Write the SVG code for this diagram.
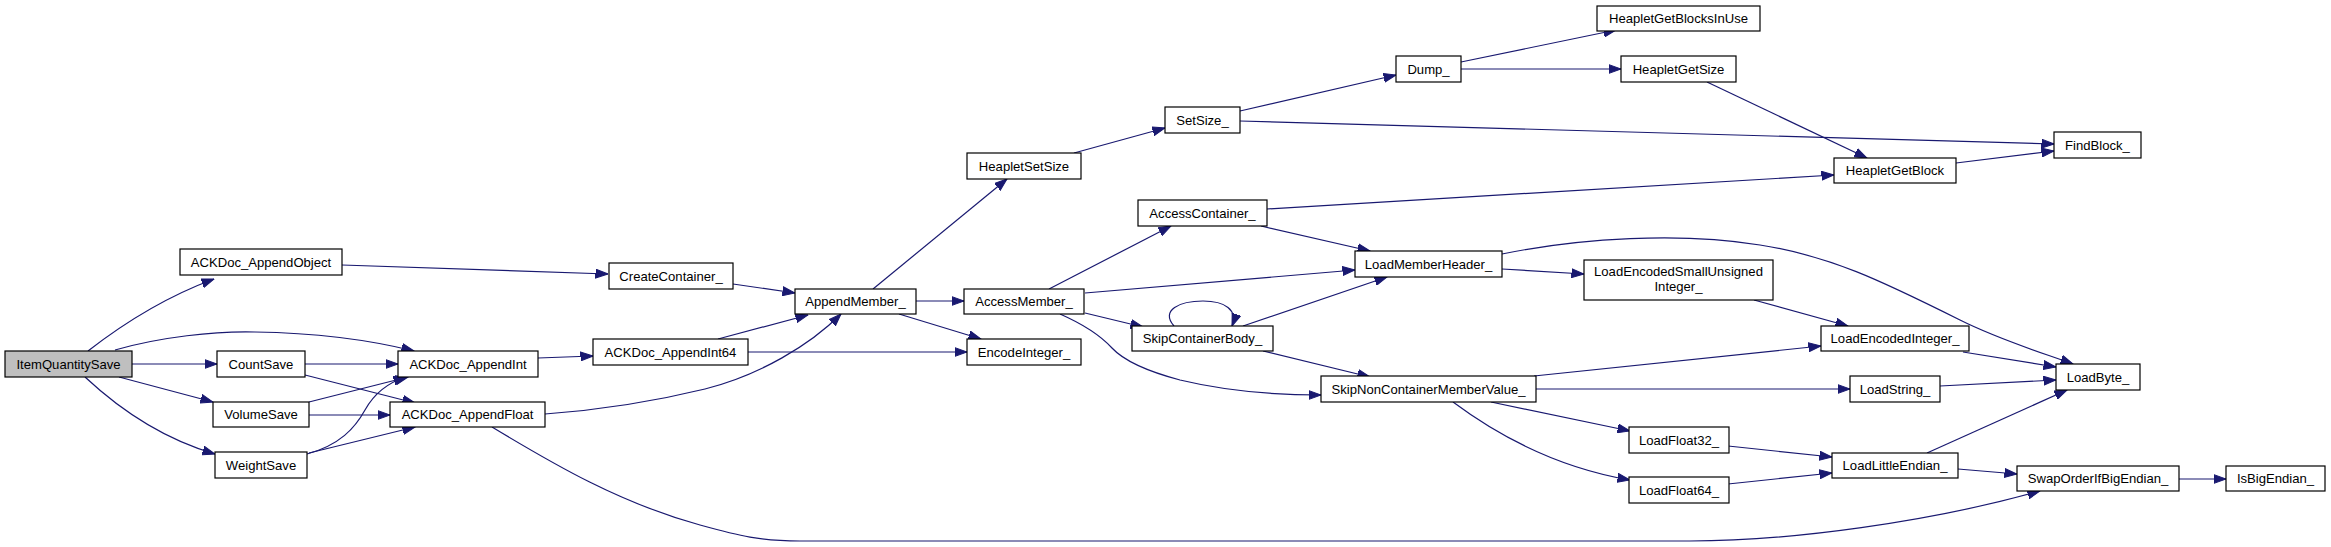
<svg xmlns="http://www.w3.org/2000/svg" width="2331" height="547" viewBox="0 0 2331 547">
<defs>
<marker id="ah" viewBox="0 0 13 10" refX="12.5" refY="5" markerWidth="13" markerHeight="10" markerUnits="userSpaceOnUse" orient="auto">
<path d="M0,0.5 L12.5,5 L0,9.5 z" fill="#191970" stroke="#191970" stroke-width="1"/>
</marker>
</defs>
<style>
.n rect{fill:#fff;stroke:#000;stroke-width:1.2}
.n text{font-family:"Liberation Sans",Arial,Helvetica,sans-serif;font-size:13.1px;fill:#000;text-anchor:middle}
#edges path{fill:none;stroke:#191970;stroke-width:1.2;marker-end:url(#ah)}
</style>
<rect width="2331" height="547" fill="#fff"/>
<g id="edges">
<path d="M88,351 C115,330 160,299 214,279"/>
<path d="M115,350 C160,337 215,331 255,332 C320,333 370,340 414,351"/>
<path d="M132,364 L217,364"/>
<path d="M119,377 L213,402"/>
<path d="M85,377 C115,405 160,438 215,454"/>
<path d="M305,364 L398,364"/>
<path d="M305,375 L415,403"/>
<path d="M309,402 L408,377"/>
<path d="M309,415 L390,415"/>
<path d="M307,454 C340,445 355,428 365,410 C375,392 390,382 406,377"/>
<path d="M309,453 L415,427"/>
<path d="M342,265 L608,274"/>
<path d="M538,358 L593,356"/>
<path d="M545,414 C600,410 660,400 705,389 C760,375 810,345 841,314"/>
<path d="M492,427 C555,465 620,503 700,525 C740,536 760,541 800,541 L1690,541 C1790,541 1930,522 2040,491"/>
<path d="M733,284 L795,293"/>
<path d="M718,339 L808,315"/>
<path d="M748,352 L967,352"/>
<path d="M873,289 L1007,179"/>
<path d="M916,301 L964,301"/>
<path d="M899,314 L981,339"/>
<path d="M1074,153 L1165,128"/>
<path d="M1240,111 L1396,75"/>
<path d="M1240,121 L2054,144"/>
<path d="M1461,62 L1616,30"/>
<path d="M1461,69 L1621,69"/>
<path d="M1707,82 L1867,158"/>
<path d="M1956,163 L2054,151"/>
<path d="M1049,289 L1171,226"/>
<path d="M1085,293 L1355,270"/>
<path d="M1085,313 L1143,327"/>
<path d="M1060,314 C1085,325 1100,335 1112,348 C1125,362 1150,372 1180,380 C1230,392 1280,395 1321,395"/>
<path d="M1267,209 L1834,175"/>
<path d="M1261,226 L1370,251"/>
<path d="M1174,326 C1160,310 1180,301 1203,301 C1225,301 1238,310 1232,326"/>
<path d="M1243,326 L1387,277"/>
<path d="M1263,351 L1370,377"/>
<path d="M1502,254 C1580,238 1680,232 1760,245 C1830,256 1880,280 1960,320 C2000,340 2040,352 2073,364"/>
<path d="M1502,269 L1584,274"/>
<path d="M1754,300 L1848,326"/>
<path d="M1534,376 L1821,346"/>
<path d="M1536,389 L1850,389"/>
<path d="M1491,402 L1630,431"/>
<path d="M1453,402 C1500,437 1560,468 1630,480"/>
<path d="M1963,352 L2056,367"/>
<path d="M1940,386 L2056,380"/>
<path d="M1728,446 L1832,457"/>
<path d="M1728,484 L1832,473"/>
<path d="M1927,453 L2067,390"/>
<path d="M1958,469 L2017,474"/>
<path d="M2179,479 L2226,479"/>
</g>
<g id="ItemQuantitySave" class="n"><rect x="5" y="351" width="127" height="26" style="fill:#bfbfbf"/><text x="68.5" y="368.5">ItemQuantitySave</text></g>
<g id="ACKDoc_AppendObject" class="n"><rect x="180" y="249" width="162" height="26"/><text x="261" y="266.5">ACKDoc_AppendObject</text></g>
<g id="CountSave" class="n"><rect x="217" y="351" width="88" height="26"/><text x="261" y="368.5">CountSave</text></g>
<g id="ACKDoc_AppendInt" class="n"><rect x="398" y="351" width="140" height="26"/><text x="468" y="368.5">ACKDoc_AppendInt</text></g>
<g id="VolumeSave" class="n"><rect x="213" y="402" width="96" height="25"/><text x="261" y="419">VolumeSave</text></g>
<g id="ACKDoc_AppendFloat" class="n"><rect x="390" y="402" width="155" height="25"/><text x="467.5" y="419">ACKDoc_AppendFloat</text></g>
<g id="WeightSave" class="n"><rect x="215" y="452" width="92" height="26"/><text x="261" y="469.5">WeightSave</text></g>
<g id="CreateContainer_" class="n"><rect x="609" y="263" width="124" height="26"/><text x="671" y="280.5">CreateContainer_</text></g>
<g id="AppendMember_" class="n"><rect x="795" y="289" width="121" height="25"/><text x="855.5" y="306">AppendMember_</text></g>
<g id="ACKDoc_AppendInt64" class="n"><rect x="593" y="339" width="155" height="26"/><text x="670.5" y="356.5">ACKDoc_AppendInt64</text></g>
<g id="HeapletSetSize" class="n"><rect x="967" y="153" width="114" height="26"/><text x="1024" y="170.5">HeapletSetSize</text></g>
<g id="AccessMember_" class="n"><rect x="964" y="289" width="120" height="25"/><text x="1024" y="306">AccessMember_</text></g>
<g id="EncodeInteger_" class="n"><rect x="967" y="339" width="114" height="26"/><text x="1024" y="356.5">EncodeInteger_</text></g>
<g id="SetSize_" class="n"><rect x="1165" y="107" width="75" height="26"/><text x="1202.5" y="124.5">SetSize_</text></g>
<g id="Dump_" class="n"><rect x="1396" y="56" width="65" height="26"/><text x="1428.5" y="73.5">Dump_</text></g>
<g id="HeapletGetBlocksInUse" class="n"><rect x="1597" y="6" width="163" height="25"/><text x="1678.5" y="23">HeapletGetBlocksInUse</text></g>
<g id="HeapletGetSize" class="n"><rect x="1621" y="56" width="115" height="26"/><text x="1678.5" y="73.5">HeapletGetSize</text></g>
<g id="AccessContainer_" class="n"><rect x="1138" y="200" width="129" height="26"/><text x="1202.5" y="217.5">AccessContainer_</text></g>
<g id="LoadMemberHeader_" class="n"><rect x="1355" y="251" width="147" height="26"/><text x="1428.5" y="268.5">LoadMemberHeader_</text></g>
<g id="LoadEncodedSmallUnsignedInteger_" class="n"><rect x="1584" y="260" width="189" height="40"/><text x="1678.5" y="276">LoadEncodedSmallUnsigned</text><text x="1678.5" y="291">Integer_</text></g>
<g id="SkipContainerBody_" class="n"><rect x="1132" y="326" width="141" height="25"/><text x="1202.5" y="343">SkipContainerBody_</text></g>
<g id="FindBlock_" class="n"><rect x="2054" y="132" width="87" height="26"/><text x="2097.5" y="149.5">FindBlock_</text></g>
<g id="HeapletGetBlock" class="n"><rect x="1834" y="158" width="122" height="25"/><text x="1895" y="175">HeapletGetBlock</text></g>
<g id="LoadEncodedInteger_" class="n"><rect x="1821" y="326" width="148" height="25"/><text x="1895" y="343">LoadEncodedInteger_</text></g>
<g id="LoadByte_" class="n"><rect x="2056" y="364" width="84" height="26"/><text x="2098" y="381.5">LoadByte_</text></g>
<g id="LoadString_" class="n"><rect x="1850" y="376" width="90" height="26"/><text x="1895" y="393.5">LoadString_</text></g>
<g id="SkipNonContainerMemberValue_" class="n"><rect x="1321" y="376" width="215" height="26"/><text x="1428.5" y="393.5">SkipNonContainerMemberValue_</text></g>
<g id="LoadFloat32_" class="n"><rect x="1629" y="427" width="100" height="26"/><text x="1679" y="444.5">LoadFloat32_</text></g>
<g id="LoadFloat64_" class="n"><rect x="1629" y="477" width="100" height="26"/><text x="1679" y="494.5">LoadFloat64_</text></g>
<g id="LoadLittleEndian_" class="n"><rect x="1832" y="453" width="126" height="25"/><text x="1895" y="470">LoadLittleEndian_</text></g>
<g id="SwapOrderIfBigEndian_" class="n"><rect x="2017" y="466" width="162" height="25"/><text x="2098" y="483">SwapOrderIfBigEndian_</text></g>
<g id="IsBigEndian_" class="n"><rect x="2226" y="466" width="99" height="25"/><text x="2275.5" y="483">IsBigEndian_</text></g>
</svg>
